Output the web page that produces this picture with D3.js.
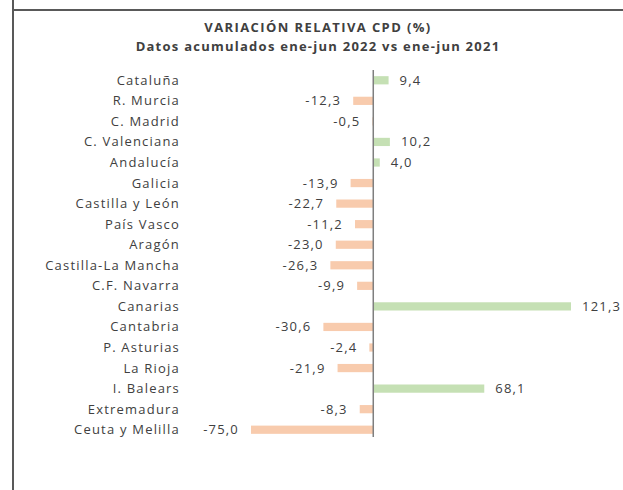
<!DOCTYPE html>
<html>
<head>
<meta charset="utf-8">
<script src="https://cdn.jsdelivr.net/npm/d3@7"></script>
<style>
  body { margin: 0; background: #fff; }
  svg { display: block; }
</style>
</head>
<body>
<div id="chart"></div>
<script>
// data
var regions = ['Cataluña', 'R. Murcia', 'C. Madrid', 'C. Valenciana', 'Andalucía', 'Galicia',
  'Castilla y León', 'País Vasco', 'Aragón', 'Castilla-La Mancha', 'C.F. Navarra', 'Canarias',
  'Cantabria', 'P. Asturias', 'La Rioja', 'I. Balears', 'Extremadura', 'Ceuta y Melilla'];
var values = [9.4, -12.3, -0.5, 10.2, 4.0, -13.9, -22.7, -11.2, -23.0, -26.3, -9.9, 121.3,
  -30.6, -2.4, -21.9, 68.1, -8.3, -75.0];
var title = 'VARIACIÓN RELATIVA CPD (%)';
var subtitle = 'Datos acumulados ene-jun 2022 vs ene-jun 2021';

var width = 623, height = 490;
var font = "'Open Sans', 'DejaVu Sans', sans-serif";

var svg = d3.select('#chart').append('svg')
  .attr('width', width)
  .attr('height', height);

// frame lines
svg.append('line').attr('x1', 13).attr('x2', 13).attr('y1', 0).attr('y2', height)
  .attr('stroke', '#595959').attr('stroke-width', 2);
svg.append('line').attr('x1', 13).attr('x2', width).attr('y1', 10).attr('y2', 10)
  .attr('stroke', '#595959').attr('stroke-width', 2);

// titles
svg.append('text').attr('x', 318).attr('y', 32)
  .attr('text-anchor', 'middle')
  .style('font-family', font).style('font-size', '13px').style('font-weight', 'bold')
  .style('letter-spacing', '1.4px')
  .style('fill', '#404040').text(title);
svg.append('text').attr('x', 318).attr('y', 51)
  .attr('text-anchor', 'middle')
  .style('font-family', font).style('font-size', '13px').style('font-weight', 'bold')
  .style('letter-spacing', '1.25px')
  .style('fill', '#404040').text(subtitle);

// scales
var x = d3.scaleLinear().domain([-75, 121.3]).range([251, 571]);
var y = d3.scaleBand().domain(regions).range([70, 440]).paddingInner(0.6).paddingOuter(0.3);

var g = svg.append('g');

g.selectAll('rect.bar')
  .data(values)
  .enter()
  .append('rect')
  .attr('class', 'bar')
  .attr('x', function (d) { return x(Math.min(0, d)); })
  .attr('y', function (d, i) { return y(regions[i]); })
  .attr('width', function (d) { return Math.abs(x(d) - x(0)); })
  .attr('height', y.bandwidth())
  .style('fill', function (d) { return d >= 0 ? '#c5e0b4' : '#f8cbad'; });

// zero axis
g.append('line')
  .attr('x1', x(0)).attr('x2', x(0))
  .attr('y1', 70).attr('y2', 437)
  .attr('stroke', '#7f7f7f').attr('stroke-width', 1.5);

// category labels
g.selectAll('text.cat')
  .data(regions)
  .enter()
  .append('text')
  .attr('class', 'cat')
  .attr('x', 180)
  .attr('y', function (d) { return y(d) + y.bandwidth() / 2; })
  .attr('dy', '0.35em')
  .attr('text-anchor', 'end')
  .style('font-family', font).style('font-size', '13px')
  .style('letter-spacing', '1.2px')
  .style('fill', '#404040')
  .text(function (d) { return d; });

// value labels
var fmt = function (d) { return d.toFixed(1).replace('.', ','); };
g.selectAll('text.val')
  .data(values)
  .enter()
  .append('text')
  .attr('class', 'val')
  .attr('x', function (d) { return d >= 0 ? x(d) + 11 : x(d) - 12; })
  .attr('y', function (d, i) { return y(regions[i]) + y.bandwidth() / 2; })
  .attr('dy', '0.35em')
  .attr('text-anchor', function (d) { return d >= 0 ? 'start' : 'end'; })
  .style('font-family', font).style('font-size', '13px')
  .style('letter-spacing', '1.2px')
  .style('fill', '#404040')
  .text(fmt);
</script>
</body>
</html>
